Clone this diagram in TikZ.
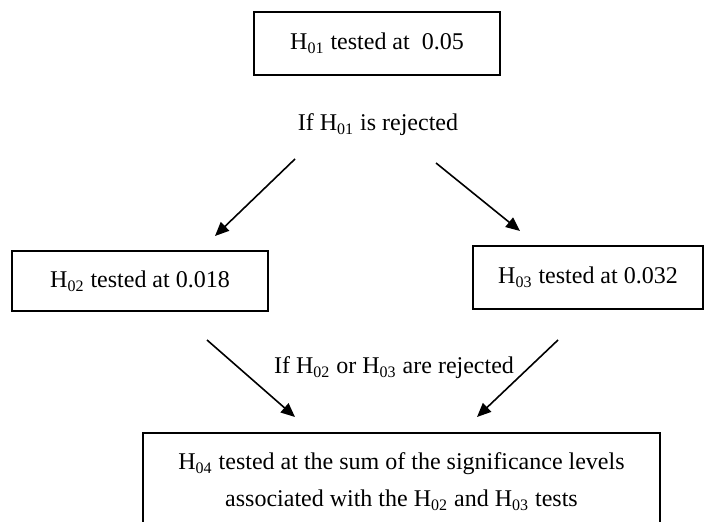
\documentclass[tikz,border=0pt]{standalone}
\usepackage{fontspec}
\setmainfont{Liberation Serif}
\usetikzlibrary{arrows.meta}

\newcommand{\hyp}[1]{H\textsubscript{#1}}

\begin{document}
\begin{tikzpicture}[x=0.5pt, y=-0.5pt, font=\fontsize{12}{18.5}\selectfont,
  box/.style={draw, line width=1pt, inner sep=0pt, align=center},
  arr/.style={-{Triangle[length=7pt,width=6pt]}, line width=0.8pt}]
  \clip (0,0) rectangle (705,522);

  % first test
  \node[box, minimum width=123pt, minimum height=31.5pt] (h1) at (377,43.5) {\hyp{01} tested at~ 0.05};
  \node (rej1) at (378,125) {If \hyp{01} is rejected};

  % second and third tests
  \node[box, minimum width=128pt, minimum height=30pt] (h2) at (140,281) {\hyp{02} tested at 0.018};
  \node[box, minimum width=115pt, minimum height=31.5pt] (h3) at (588,277.5) {\hyp{03} tested at 0.032};
  \node (rej2) at (394,368) {If \hyp{02} or \hyp{03} are rejected};

  % last test
  \node[box, anchor=north, minimum width=258.5pt, minimum height=48.5pt] (h4) at (401.5,432)
    {\hyp{04} tested at the sum of the significance levels\\associated with the \hyp{02} and \hyp{03} tests};

  % arrow ends
  \coordinate (a1) at (295,159); \coordinate (a2) at (215,236);
  \coordinate (b1) at (436,163); \coordinate (b2) at (520,231);
  \coordinate (c1) at (207,340); \coordinate (c2) at (295,417);
  \coordinate (d1) at (558,340); \coordinate (d2) at (477,417);

  \draw[arr] (a1) -- (a2);
  \draw[arr] (b1) -- (b2);
  \draw[arr] (c1) -- (c2);
  \draw[arr] (d1) -- (d2);
\end{tikzpicture}
\end{document}
